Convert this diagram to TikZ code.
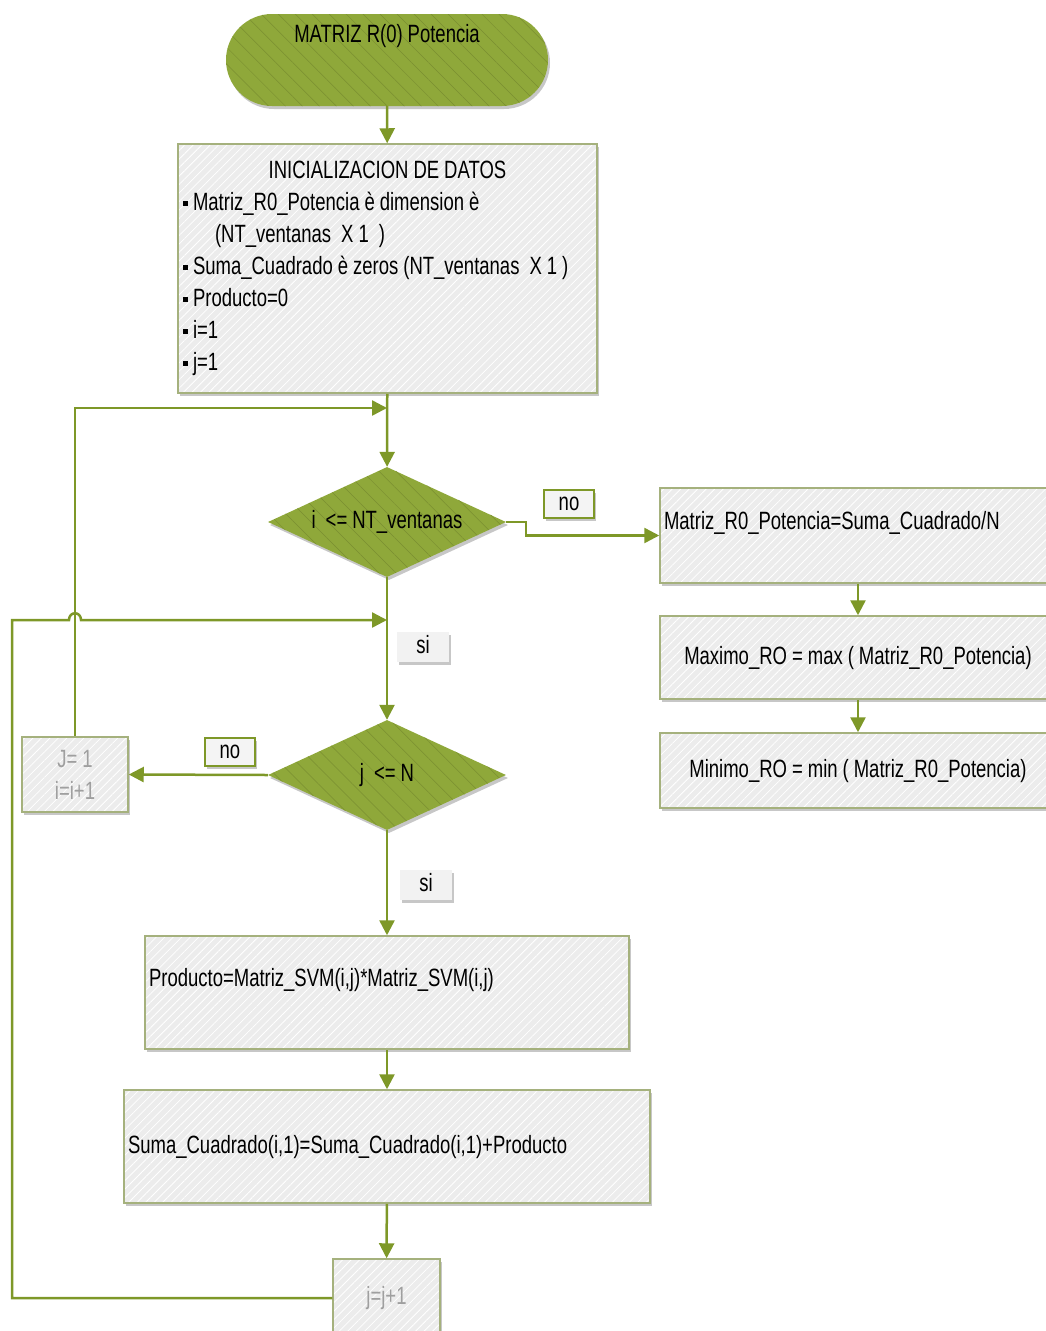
\documentclass[tikz,border=0pt]{standalone}
\usepackage{fontspec}
\setmainfont{Liberation Sans}[FakeStretch=0.74,WordSpace=0.74]
\usepackage{xcolor}
\usetikzlibrary{shapes.geometric,arrows.meta,shadows,patterns.meta}

\definecolor{olivo}{RGB}{143,168,58}
\definecolor{linea}{RGB}{126,152,40}
\definecolor{borde}{RGB}{165,177,125}
\definecolor{fondo}{RGB}{236,236,236}

\newcommand{\blt}{\rule[0.2em]{0.2em}{0.2em}\hspace{0.2em}}
\newcommand{\fuente}{\fontsize{25}{32}\selectfont\spaceskip=5pt plus 2pt minus 1pt\relax}

\begin{document}
\begin{tikzpicture}[x=1pt,y=-1pt,
        font=\fuente,
        sombra/.style={drop shadow={shadow xshift=2pt,shadow yshift=-3pt,opacity=0.22,fill=black}},
        rayado/.style={preaction={pattern={Lines[angle=45,distance=6pt,line width=0.8pt]},pattern color=white}},
        rayadoverde/.style={postaction={pattern={Lines[angle=-45,distance=12pt,line width=0.5pt]},pattern color=olivo!85!black}},
        txt/.style={text height=18pt,text depth=5pt},
        txtup/.style={text height=18pt,text depth=31pt},
        caja/.style={rectangle, sombra, preaction={fill=fondo}, rayado, draw=borde, line width=1.5pt, inner sep=0pt, txt},
        decision/.style={diamond, fill=olivo, inner sep=0pt, minimum width=238pt, minimum height=110pt, sombra, rayadoverde, txt},
        etiqno/.style={rectangle, draw=linea, line width=2.5pt, fill=fondo!60!white, minimum width=50pt, minimum height=28pt, inner sep=0pt, sombra, txt},
        etiqsi/.style={rectangle, fill=fondo!70!white, minimum width=52pt, minimum height=30pt, inner sep=0pt, sombra, txt},
        flecha/.style={draw=linea, line width=2.5pt, -{Triangle[length=15pt,width=15pt]}},
        gris/.style={text=gray!75}]
    \useasboundingbox (0,0) rectangle (1046,1331);
    % inicio
    \node [rectangle, rounded corners=46pt, fill=olivo, minimum width=322pt, minimum height=92pt,
           inner sep=0pt, sombra, rayadoverde, text height=18pt, text depth=54pt] (start) at (387,60) {MATRIZ R(0) Potencia};
    \node [caja, minimum width=419pt, minimum height=249pt, text height={}, text depth={},
           align=left] (init) at (387.5,268.5)
        {\makebox[409pt]{INICIALIZACION DE DATOS}\\
         \blt Matriz\_R0\_Potencia è dimension è\\
         \hspace*{32pt}(NT\_ventanas\ \ X 1\ \ )\\
         \blt Suma\_Cuadrado è zeros (NT\_ventanas\ \ X 1 )\\
         \blt Producto=0\\
         \blt i=1\\
         \blt j=1};
    % ciclos
    \node [decision] (condI) at (387,522) {\makebox[0pt]{i\ \ <= NT\_ventanas}};
    \node [decision] (condJ) at (387,775) {\makebox[0pt]{j\ \ <= N}};
    \node [caja, minimum width=106pt, minimum height=75pt, text height={}, text depth={}, align=center, gris] (incI) at (75,774.5) {J= 1\\ i=i+1};
    \node [caja, minimum width=484pt, minimum height=113pt, txtup, text width=476pt, align=left] (producto) at (387,992.5) {Producto=Matriz\_SVM(i,j)*Matriz\_SVM(i,j)};
    \node [caja, minimum width=526pt, minimum height=113pt, text width=518pt, align=left] (suma) at (387,1146.5) {Suma\_Cuadrado(i,1)=Suma\_Cuadrado(i,1)+Producto};
    \node [caja, minimum width=107pt, minimum height=78pt, gris] (incJ) at (386.5,1298) {j=j+1};
    % salida
    \node [caja, minimum width=396pt, minimum height=95pt, txtup, text width=388pt, align=left] (potencia) at (858,535.5) {Matriz\_R0\_Potencia=Suma\_Cuadrado/N};
    \node [caja, minimum width=396pt, minimum height=83pt] (maximo) at (858,657.5) {Maximo\_RO = max ( Matriz\_R0\_Potencia)};
    \node [caja, minimum width=396pt, minimum height=75pt] (minimo) at (858,770.5) {Minimo\_RO = min ( Matriz\_R0\_Potencia)};
    % etiquetas
    \node [etiqno] (noI) at (569,504) {no};
    \node [etiqsi] (siI) at (423,647) {si};
    \node [etiqno] (noJ) at (230,752) {no};
    \node [etiqsi] (siJ) at (426,885) {si};
    \coordinate (loopI) at (387,408);
    \coordinate (loopJ) at (387,620);
    \coordinate (rail) at (12,620);
    % conectores
    \draw [flecha] (start) -- (init);
    \draw [flecha] (init) -- (condI);
    \draw [flecha] (incI.north) |- (loopI);
    \draw [flecha] (condI) -- (condJ);
    \draw [flecha] (incJ.west) -| (rail) -- (69,620) .. controls (69,611) and (81,611) .. (81,620) -- (loopJ);
    \draw [flecha] (condI.east) -- ++(20,0) |- (potencia.west);
    \draw [flecha] (potencia) -- (maximo);
    \draw [flecha] (maximo) -- (minimo);
    \draw [flecha] (condJ.west) -- (incI.east);
    \draw [flecha] (condJ) -- (producto);
    \draw [flecha] (producto) -- (suma);
    \draw [flecha] (suma) -- (incJ);
\end{tikzpicture}
\end{document}
